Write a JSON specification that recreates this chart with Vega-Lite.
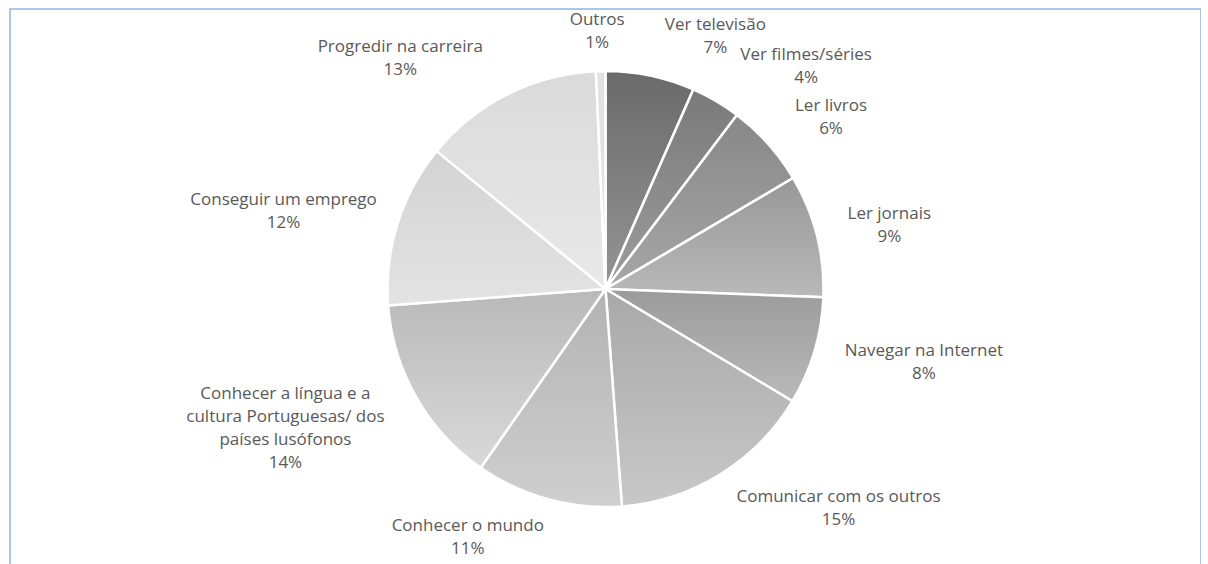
{
  "$schema": "https://vega.github.io/schema/vega-lite/v6.json",
  "width": 1191,
  "height": 560,
  "autosize": {"type": "none"},
  "padding": {"left": 10, "top": 9, "right": 0, "bottom": 0},
  "background": "white",
  "view": {"stroke": "#8eb4e3", "strokeWidth": 1.5},
  "data": {
    "values": [
      {"idx": 1, "cat": "Ver televisão", "value": 6.6, "label": ["Ver televisão", "7%"]},
      {"idx": 2, "cat": "Ver filmes/séries", "value": 3.7, "label": ["Ver filmes/séries", "4%"]},
      {"idx": 3, "cat": "Ler livros", "value": 6.2, "label": ["Ler livros", "6%"]},
      {"idx": 4, "cat": "Ler jornais", "value": 9.1, "label": ["Ler jornais", "9%"]},
      {"idx": 5, "cat": "Navegar na Internet", "value": 8.0, "label": ["Navegar na Internet", "8%"]},
      {"idx": 6, "cat": "Comunicar com os outros", "value": 15.2, "label": ["Comunicar com os outros", "15%"]},
      {"idx": 7, "cat": "Conhecer o mundo", "value": 10.9, "label": ["Conhecer o mundo", "11%"]},
      {"idx": 8, "cat": "Conhecer a língua e a cultura Portuguesas/ dos países lusófonos", "value": 14.1, "label": ["Conhecer a língua e a", "cultura Portuguesas/ dos", "países lusófonos", "14%"]},
      {"idx": 9, "cat": "Conseguir um emprego", "value": 12.1, "label": ["Conseguir um emprego", "12%"]},
      {"idx": 10, "cat": "Progredir na carreira", "value": 13.4, "label": ["Progredir na carreira", "13%"]},
      {"idx": 11, "cat": "Outros", "value": 0.7, "label": ["Outros", "1%"]}
    ]
  },
  "layer": [
    {
      "mark": {"type": "arc", "radius": 218, "stroke": "white", "strokeWidth": 2.5},
      "encoding": {
        "theta": {"field": "value", "type": "quantitative", "stack": true, "scale": {"domain": [0, 100]}},
        "order": {"field": "idx", "type": "quantitative"},
        "fill": {
          "condition": [
            {"test": "datum.idx == 1", "value": {"gradient": "linear", "x1": 0, "y1": 0, "x2": 0, "y2": 1, "stops": [{"offset": 0, "color": "#6a6a6a"}, {"offset": 1, "color": "#959595"}]}},
            {"test": "datum.idx == 2", "value": {"gradient": "linear", "x1": 0, "y1": 0, "x2": 0, "y2": 1, "stops": [{"offset": 0, "color": "#7a7a7a"}, {"offset": 1, "color": "#9c9c9c"}]}},
            {"test": "datum.idx == 3", "value": {"gradient": "linear", "x1": 0, "y1": 0, "x2": 0, "y2": 1, "stops": [{"offset": 0, "color": "#888888"}, {"offset": 1, "color": "#a6a6a6"}]}},
            {"test": "datum.idx == 4", "value": {"gradient": "linear", "x1": 0, "y1": 0, "x2": 0, "y2": 1, "stops": [{"offset": 0, "color": "#979797"}, {"offset": 1, "color": "#b9b9b9"}]}},
            {"test": "datum.idx == 5", "value": {"gradient": "linear", "x1": 0, "y1": 0, "x2": 0, "y2": 1, "stops": [{"offset": 0, "color": "#9b9b9b"}, {"offset": 1, "color": "#b9b9b9"}]}},
            {"test": "datum.idx == 6", "value": {"gradient": "linear", "x1": 0, "y1": 0, "x2": 0, "y2": 1, "stops": [{"offset": 0, "color": "#a8a8a8"}, {"offset": 1, "color": "#c8c8c8"}]}},
            {"test": "datum.idx == 7", "value": {"gradient": "linear", "x1": 0, "y1": 0, "x2": 0, "y2": 1, "stops": [{"offset": 0, "color": "#b3b3b3"}, {"offset": 1, "color": "#cfcfcf"}]}},
            {"test": "datum.idx == 8", "value": {"gradient": "linear", "x1": 0, "y1": 0, "x2": 0, "y2": 1, "stops": [{"offset": 0, "color": "#b9b9b9"}, {"offset": 1, "color": "#d9d9d9"}]}},
            {"test": "datum.idx == 9", "value": {"gradient": "linear", "x1": 0, "y1": 0, "x2": 0, "y2": 1, "stops": [{"offset": 0, "color": "#d3d3d3"}, {"offset": 1, "color": "#e3e3e3"}]}},
            {"test": "datum.idx == 10", "value": {"gradient": "linear", "x1": 0, "y1": 0, "x2": 0, "y2": 1, "stops": [{"offset": 0, "color": "#dadada"}, {"offset": 1, "color": "#e9e9e9"}]}}
          ],
          "value": "#e2e2e2"
        }
      }
    },
    {
      "mark": {
        "type": "text",
        "radius": 228,
        "font": "Open Sans",
        "fontSize": 17,
        "lineHeight": 23,
        "color": "#595959",
        "align": "center",
        "baseline": "middle",
        "dx": {"expr": "12 * sin(PI*(datum.value_start+datum.value_end)/100) + clamp(5 * sin(PI*(datum.value_start+datum.value_end)/100), -1, 1) * 4.65 * max(length(datum.label[0]), length(datum.label[1]), length(datum.label[2] || ''))"},
        "dy": {"expr": "-cos(PI*(datum.value_start+datum.value_end)/100) * (11.5 * length(datum.label) + 7) - 11.5 * (length(datum.label) - 1)"}
      },
      "encoding": {
        "theta": {"field": "value", "type": "quantitative", "stack": true, "scale": {"domain": [0, 100]}},
        "order": {"field": "idx", "type": "quantitative"},
        "text": {"field": "label"}
      }
    }
  ]
}
